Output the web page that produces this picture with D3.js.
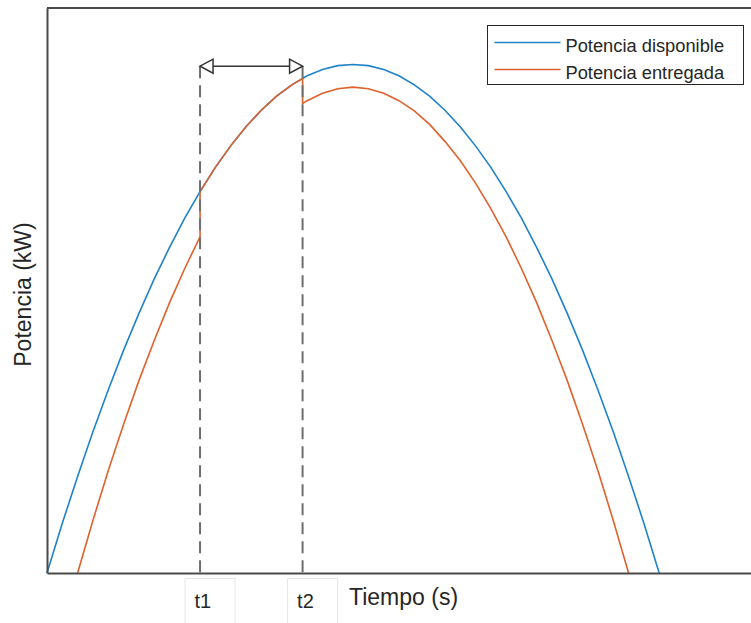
<!DOCTYPE html>
<html>
<head>
<meta charset="utf-8">
<script src="https://cdn.jsdelivr.net/npm/d3@7.9.0/dist/d3.min.js"></script>
<style>
  html, body { margin: 0; padding: 0; background: #fff; }
  svg { display: block; font-family: "Liberation Sans", Arial, sans-serif; }
</style>
</head>
<body>
<div id="chart"></div>
<script>
// chart size
const width = 751;
const height = 623;

// plot box
const margin = { top: 8, right: 0, bottom: 50, left: 47 };

// available power (blue)
const availTime = [0, 0.5, 1, 1.5, 2, 2.5, 3, 3.5, 4, 4.5, 5, 5.5, 6, 6.5, 7, 7.5, 8, 8.5, 9, 9.5,
  10, 10.5, 11, 11.5, 12, 12.5, 13, 13.5, 14, 14.5, 15, 15.5, 16, 16.5, 17, 17.5, 18, 18.5, 19, 19.5, 20];
const availPower = [0, 8.8, 17.1, 25.0, 32.4, 39.4, 45.9, 52.0, 57.6, 62.8, 67.5, 71.8, 75.6, 79.0, 81.9, 84.4, 86.4, 88.0, 89.1, 89.8,
  90.0, 89.8, 89.1, 88.0, 86.4, 84.4, 81.9, 79.0, 75.6, 71.8, 67.5, 62.8, 57.6, 52.0, 45.9, 39.4, 32.4, 25.0, 17.1, 8.8, 0];

// delivered power (orange), jumps to the available curve between t1 and t2
const delivTime = [1, 1.5, 2, 2.5, 3, 3.5, 4, 4.5, 5, 5, 5.5, 6, 6.5, 7, 7.5, 8, 8.35, 8.35, 8.5, 9, 9.5,
  10, 10.5, 11, 11.5, 12, 12.5, 13, 13.5, 14, 14.5, 15, 15.5, 16, 16.5, 17, 17.5, 18, 18.5, 19];
const delivPower = [0, 9.3, 18.1, 26.3, 34.0, 41.1, 47.8, 53.9, 59.5, 67.5, 71.8, 75.6, 79.0, 81.9, 84.4, 86.4, 87.5, 83.1, 83.6, 84.9, 85.7,
  86.0, 85.7, 84.9, 83.6, 81.8, 79.4, 76.4, 73.0, 69.0, 64.5, 59.5, 53.9, 47.8, 41.1, 34.0, 26.3, 18.1, 9.3, 0];

// marked instants on the time axis
const markTimes = [5, 8.35];
const markLabels = ["t1", "t2"];
const arrowLevel = 89.7;

const seriesNames = ["Potencia disponible", "Potencia entregada"];
const seriesColors = ["#1f82ca", "#e0612c"];

const area = {
  left: margin.left,
  right: width - margin.right,
  top: margin.top,
  bottom: 573,
};

const x = d3.scaleLinear().domain([0, 23]).range([area.left, area.right]);
const y = d3.scaleLinear().domain([0, 100]).range([area.bottom, area.top]);

const svg = d3.select("#chart")
  .append("svg")
  .attr("width", width)
  .attr("height", height);

const axisColor = "#4a4a4a";
const textColor = "#262626";

// curves
const line = d3.line().x(d => x(d[0])).y(d => y(d[1]));
const avail = availTime.map((t, i) => [t, availPower[i]]);
const deliv = delivTime.map((t, i) => [t, delivPower[i]]);

svg.append("path")
  .datum(avail)
  .attr("d", line)
  .attr("fill", "none")
  .attr("stroke", seriesColors[0])
  .attr("stroke-width", 1.6);

svg.append("path")
  .datum(deliv)
  .attr("d", line)
  .attr("fill", "none")
  .attr("stroke", seriesColors[1])
  .attr("stroke-width", 1.6);

// dashed markers
svg.append("g")
  .selectAll("line")
  .data(markTimes)
  .join("line")
  .attr("x1", d => x(d)).attr("x2", d => x(d))
  .attr("y1", y(arrowLevel)).attr("y2", y(0))
  .attr("stroke", "#6e6e6e")
  .attr("stroke-width", 2)
  .attr("stroke-dasharray", "12,7");

// double arrow between t1 and t2
const ay = y(arrowLevel);
const x1 = x(markTimes[0]);
const x2 = x(markTimes[1]);
svg.append("line")
  .attr("x1", x1 + 12).attr("x2", x2 - 12)
  .attr("y1", ay).attr("y2", ay)
  .attr("stroke", "#333")
  .attr("stroke-width", 1.5);

svg.append("path")
  .attr("d", `M${x1},${ay} L${x1 + 13},${ay - 7} L${x1 + 13},${ay + 7} Z`)
  .attr("fill", "#fff").attr("stroke", "#333").attr("stroke-width", 1.5);
svg.append("path")
  .attr("d", `M${x2},${ay} L${x2 - 13},${ay - 7} L${x2 - 13},${ay + 7} Z`)
  .attr("fill", "#fff").attr("stroke", "#333").attr("stroke-width", 1.5);

// axes (no ticks, only the box lines)
svg.append("line")
  .attr("x1", area.left).attr("x2", area.right)
  .attr("y1", area.top).attr("y2", area.top)
  .attr("stroke", axisColor).attr("stroke-width", 2);

svg.append("g")
  .attr("transform", `translate(${area.left},0)`)
  .call(d3.axisLeft(y).ticks(0).tickSize(0).tickSizeOuter(0))
  .call(g => g.select(".domain").attr("stroke", axisColor).attr("stroke-width", 2));

const xAxis = svg.append("g")
  .attr("transform", `translate(0,${area.bottom})`)
  .call(d3.axisBottom(x)
    .tickValues(markTimes)
    .tickSize(0)
    .tickSizeOuter(0)
    .tickFormat((d, i) => markLabels[i]));

xAxis.select(".domain").attr("stroke", axisColor).attr("stroke-width", 2);

// boxed tick labels
xAxis.selectAll(".tick").each(function () {
  const g = d3.select(this);
  g.insert("rect", "text")
    .attr("x", -15.5).attr("y", 5.5)
    .attr("width", 50).attr("height", 60)
    .attr("fill", "#fff")
    .attr("stroke", "#e6e6e6")
    .attr("stroke-width", 1);
  g.select("text")
    .attr("x", -6)
    .attr("y", 35)
    .attr("dy", null)
    .attr("text-anchor", "start")
    .attr("fill", textColor)
    .style("font-size", "20px")
    .style("font-family", "'Liberation Sans', Arial, sans-serif");
});

// axis titles
svg.append("text")
  .attr("x", 349)
  .attr("y", 605)
  .attr("fill", textColor)
  .style("font-size", "23px")
  .text("Tiempo (s)");

svg.append("text")
  .attr("transform", `translate(31,${(area.top + area.bottom) / 2 + 4}) rotate(-90)`)
  .attr("text-anchor", "middle")
  .attr("fill", textColor)
  .style("font-size", "23px")
  .text("Potencia (kW)");

// legend
const legend = svg.append("g").attr("transform", "translate(487.5,25.5)");
legend.append("rect")
  .attr("width", 256).attr("height", 59)
  .attr("fill", "#fff")
  .attr("stroke", "#262626")
  .attr("stroke-width", 1);

const item = legend.selectAll("g.item")
  .data(seriesNames)
  .join("g")
  .attr("class", "item")
  .attr("transform", (d, i) => `translate(0,${17 + i * 27})`);

item.append("line")
  .attr("x1", 7).attr("x2", 73)
  .attr("stroke", (d, i) => seriesColors[i])
  .attr("stroke-width", 1.6);

item.append("text")
  .attr("x", 78)
  .attr("y", 9)
  .attr("fill", textColor)
  .style("font-size", "18.3px")
  .text(d => d);
</script>
</body>
</html>
